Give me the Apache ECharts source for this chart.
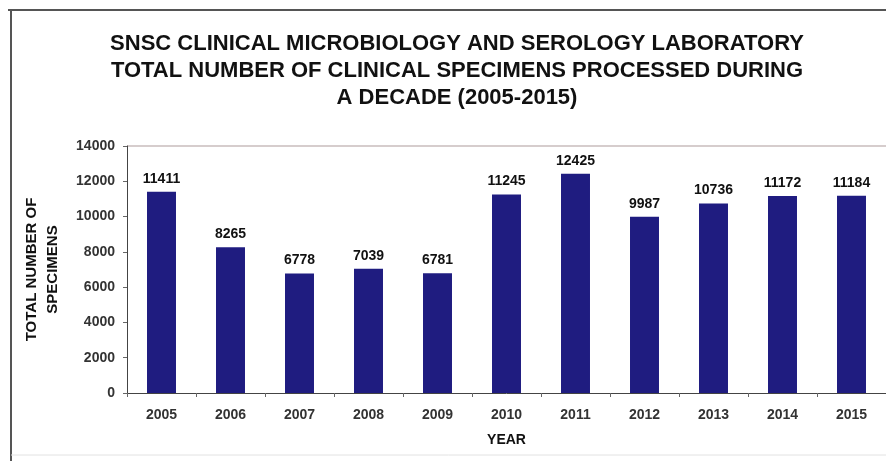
<!DOCTYPE html>
<html><head><meta charset="utf-8">
<script src="https://cdn.jsdelivr.net/npm/echarts@6/dist/echarts.min.js"></script>
<style>html,body{margin:0;padding:0;background:#fff}#c{width:886px;height:461px}</style>
</head><body><div id="c"></div>
<script>
const years = ['2005','2006','2007','2008','2009','2010','2011','2012','2013','2014','2015'];
const specimens = [11411, 8265, 6778, 7039, 6781, 11245, 12425, 9987, 10736, 11172, 11184];
const yTicks = [0, 2000, 4000, 6000, 8000, 10000, 12000, 14000];

const chart = echarts.init(document.getElementById('c'));
chart.setOption({
  animation: false,
  backgroundColor: '#fff',
  title: {
    text: 'SNSC CLINICAL MICROBIOLOGY AND SEROLOGY LABORATORY\nTOTAL NUMBER OF CLINICAL SPECIMENS PROCESSED DURING\nA DECADE (2005-2015)',
    left: 452, top: 25, textAlign: 'center',
    textStyle: { fontFamily: 'Liberation Sans', fontWeight: 'bold', fontSize: 22, lineHeight: 27, color: '#111' }
  },
  graphic: [
    { type: 'line', shape: { x1: 8, y1: 10, x2: 886, y2: 10 }, style: { stroke: '#555', lineWidth: 2 } },
    { type: 'line', shape: { x1: 11, y1: 10, x2: 11, y2: 461 }, style: { stroke: '#555', lineWidth: 2 } },
    { type: 'line', shape: { x1: 11, y1: 455, x2: 886, y2: 455 }, style: { stroke: '#e2e2e2', lineWidth: 1 } },
    { type: 'line', shape: { x1: 127, y1: 146, x2: 886, y2: 146 }, style: { stroke: '#c8bcbc', lineWidth: 1.5 } }
  ],
  grid: { left: 127, right: 0, top: 146, bottom: 68 },
  xAxis: {
    type: 'category', data: years,
    name: 'YEAR', nameLocation: 'middle', nameGap: 40,
    nameTextStyle: { fontFamily: 'Liberation Sans', fontWeight: 'bold', fontSize: 14, color: '#111' },
    axisLine: { lineStyle: { color: '#444', width: 1 } },
    axisTick: { show: true, alignWithLabel: false, length: 4, lineStyle: { color: '#666' } },
    axisLabel: { fontFamily: 'Liberation Sans', fontWeight: 'bold', fontSize: 14, color: '#333', margin: 15 }
  },
  yAxis: {
    type: 'value', min: 0, max: 14000, interval: 2000,
    name: 'TOTAL NUMBER OF\nSPECIMENS', nameLocation: 'middle', nameGap: 64, nameRotate: 90,
    nameTextStyle: { fontFamily: 'Liberation Sans', fontWeight: 'bold', fontSize: 15, lineHeight: 21, color: '#111' },
    axisLine: { show: true, lineStyle: { color: '#444', width: 1 } },
    axisTick: { show: true, length: 4, lineStyle: { color: '#666' } },
    splitLine: { show: false },
    axisLabel: { fontFamily: 'Liberation Sans', fontWeight: 'bold', fontSize: 14, color: '#333', margin: 12,
      formatter: v => yTicks.includes(v) ? String(v) : '' }
  },
  series: [{
    type: 'bar', data: specimens, barWidth: '42%',
    itemStyle: { color: '#1f1c80' },
    label: { show: true, position: 'top', distance: 6, fontFamily: 'Liberation Sans', fontWeight: 'bold', fontSize: 14, color: '#111' }
  }]
});
</script></body></html>
